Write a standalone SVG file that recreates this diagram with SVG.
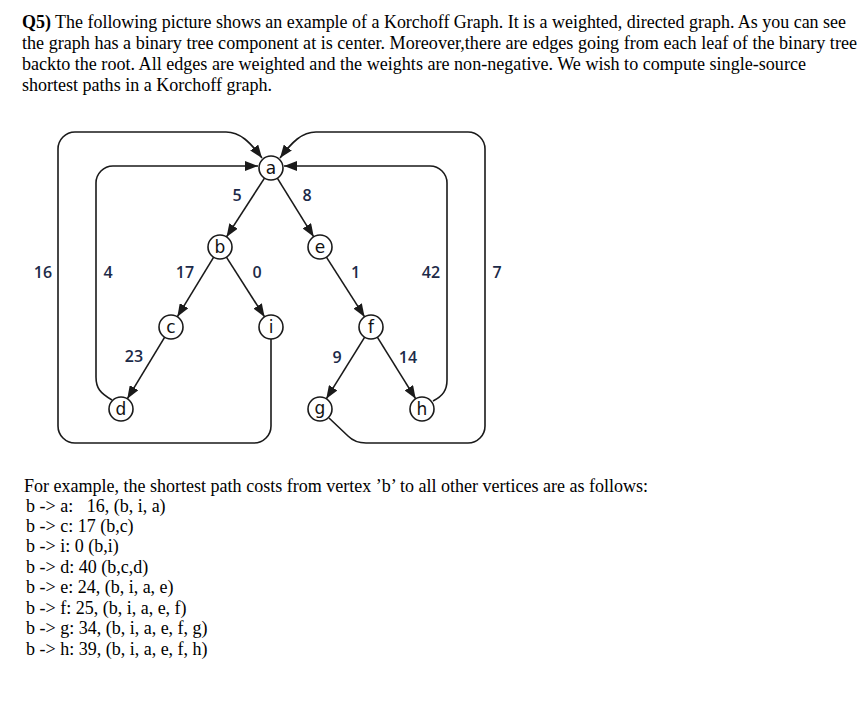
<svg xmlns="http://www.w3.org/2000/svg" width="867" height="708" viewBox="0 0 867 708">
<style>
.bg{fill:#ffffff}
.t{font-family:"Liberation Serif","Times New Roman",serif;font-size:18px;fill:#000}
.b{font-family:"Liberation Serif","Times New Roman",serif;font-size:18px;fill:#000}
.node circle{fill:#fff;stroke:#1a1a1a;stroke-width:1.6}
.node text{font-family:"DejaVu Sans","Noto Sans",sans-serif;font-size:17px;fill:#111;text-anchor:middle}
.edge{fill:none;stroke:#1a1a1a;stroke-width:1.6}
.w{font-family:"Open Sans","Noto Sans",sans-serif;font-weight:600;font-size:16px;fill:#1c2a48;text-anchor:middle}
</style>
<defs>
<marker id="ah" viewBox="0 0 13 10" refX="13" refY="5" markerWidth="13" markerHeight="10" markerUnits="userSpaceOnUse" orient="auto">
<path d="M0,0 L13,5 L0,10 z" fill="#1a1a1a"/>
</marker>
</defs>
<rect class="bg" x="0" y="0" width="867" height="708"/>

<g id="question">
<text class="t" x="22" y="28" textLength="824" lengthAdjust="spacingAndGlyphs"><tspan font-weight="bold">Q5)</tspan> The following picture shows an example of a Korchoff Graph. It is a weighted, directed graph. As you can see</text>
<text class="t" x="22" y="49" textLength="835" lengthAdjust="spacingAndGlyphs">the graph has a binary tree component at is center. Moreover,there are edges going from each leaf of the binary tree</text>
<text class="t" x="22" y="70" textLength="784" lengthAdjust="spacingAndGlyphs">backto the root. All edges are weighted and the weights are non-negative. We wish to compute single-source</text>
<text class="t" x="22" y="91" textLength="250" lengthAdjust="spacingAndGlyphs">shortest paths in a Korchoff graph.</text>
</g>

<g id="connectors">
<path class="edge" marker-end="url(#ah)" d="M264.5,178.1 L226.5,236.9"/>
<path class="edge" marker-end="url(#ah)" d="M277.3,178.2 L313.7,236.8"/>
<path class="edge" marker-end="url(#ah)" d="M213.7,257.2 L177.3,316.8"/>
<path class="edge" marker-end="url(#ah)" d="M226.4,257.1 L264.6,316.9"/>
<path class="edge" marker-end="url(#ah)" d="M326.4,257.1 L364.6,316.9"/>
<path class="edge" marker-end="url(#ah)" d="M164.7,337.2 L127.3,398.8"/>
<path class="edge" marker-end="url(#ah)" d="M364.7,337.2 L326.3,398.8"/>
<path class="edge" marker-end="url(#ah)" d="M377.3,337.2 L415.7,398.8"/>
<path class="edge" marker-end="url(#ah)" d="M271,339 V426 A17,17 0 0 1 254,443 H75 A17,17 0 0 1 58,426 V149 A17,17 0 0 1 75,132 H226 C240,132 250,142 262,158"/>
<path class="edge" marker-end="url(#ah)" d="M112,400 C100,393 96,388 96,377 V183 A17,17 0 0 1 113,166 H258"/>
<path class="edge" marker-end="url(#ah)" d="M433,401 C443,396 447,390 447,380 V183 A17,17 0 0 0 430,166 H284"/>
<path class="edge" marker-end="url(#ah)" d="M329,418 L348,436 Q355,443 366,443 H468 A17,17 0 0 0 485,426 V149 A17,17 0 0 0 468,132 H316 C302,132 292,142 280,158"/>
</g>

<g id="labels">
<text class="w" x="43" y="278">16</text>
<text class="w" x="108" y="278">4</text>
<text class="w" x="185" y="278">17</text>
<text class="w" x="257" y="278">0</text>
<text class="w" x="355.5" y="278">1</text>
<text class="w" x="431" y="278">42</text>
<text class="w" x="497" y="278">7</text>
<text class="w" x="237" y="201">5</text>
<text class="w" x="307" y="201">8</text>
<text class="w" x="134" y="362">23</text>
<text class="w" x="337" y="363">9</text>
<text class="w" x="408" y="363">14</text>
</g>

<g id="node-a" class="node"><circle cx="271" cy="168" r="12"/><text x="271" y="174">a</text></g>
<g id="node-b" class="node"><circle cx="220" cy="247" r="12"/><text x="220" y="253">b</text></g>
<g id="node-e" class="node"><circle cx="320" cy="247" r="12"/><text x="320" y="253">e</text></g>
<g id="node-c" class="node"><circle cx="171" cy="327" r="12"/><text x="171" y="333">c</text></g>
<g id="node-i" class="node"><circle cx="271" cy="327" r="12"/><text x="271" y="333">i</text></g>
<g id="node-f" class="node"><circle cx="371" cy="327" r="12"/><text x="371" y="333">f</text></g>
<g id="node-d" class="node"><circle cx="121" cy="409" r="12"/><text x="121" y="415">d</text></g>
<g id="node-g" class="node"><circle cx="320" cy="409" r="12"/><text x="320" y="414">g</text></g>
<g id="node-h" class="node"><circle cx="422" cy="409" r="12"/><text x="422" y="415">h</text></g>

<g id="answer">
<text class="b" x="24" y="492" textLength="624" lengthAdjust="spacingAndGlyphs">For example, the shortest path costs from vertex ’b’ to all other vertices are as follows:</text>
<text class="b" x="26" y="512" xml:space="preserve">b -&gt; a:   16, (b, i, a)</text>
<text class="b" x="26" y="532">b -&gt; c: 17 (b,c)</text>
<text class="b" x="26" y="552">b -&gt; i: 0 (b,i)</text>
<text class="b" x="26" y="573">b -&gt; d: 40 (b,c,d)</text>
<text class="b" x="26" y="593">b -&gt; e: 24, (b, i, a, e)</text>
<text class="b" x="26" y="614">b -&gt; f: 25, (b, i, a, e, f)</text>
<text class="b" x="26" y="634">b -&gt; g: 34, (b, i, a, e, f, g)</text>
<text class="b" x="26" y="655">b -&gt; h: 39, (b, i, a, e, f, h)</text>
</g>
</svg>
